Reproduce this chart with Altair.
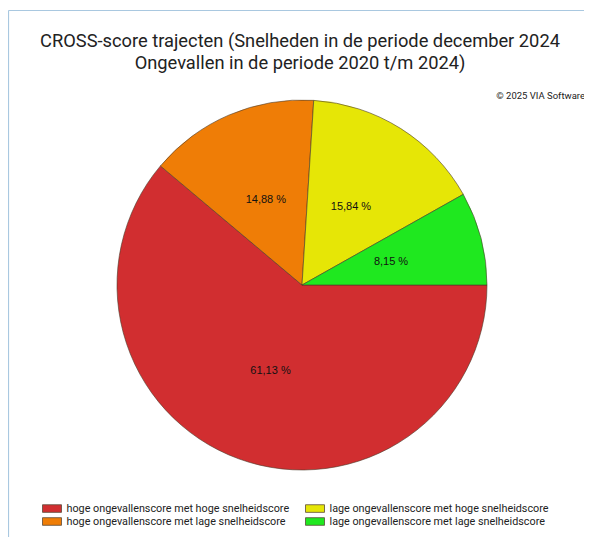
import math
import altair as alt
import pandas as pd

categories = [
    "hoge ongevallenscore met hoge snelheidscore",
    "hoge ongevallenscore met lage snelheidscore",
    "lage ongevallenscore met hoge snelheidscore",
    "lage ongevallenscore met lage snelheidscore",
]
values = [61.13, 14.88, 15.84, 8.15]
colors = ["#d12e30", "#ef7d06", "#e6e606", "#1fe81f"]
slice_order = [0, 1, 2, 3]

title_lines = [
    "CROSS-score trajecten (Snelheden in de periode december 2024",
    "Ongevallen in de periode 2020 t/m 2024)",
]
copyright_text = "\u00a9 2025 VIA Software"

df = pd.DataFrame({"cat": categories, "val": values, "ord": slice_order})

W, H = 576, 529
CX, CY, R = 294, 277, 185

color_scale = alt.Scale(domain=categories, range=colors)
theta_scale = alt.Scale(range=[math.pi / 2, math.pi / 2 + 2 * math.pi])

base = alt.Chart(df)

pie = base.mark_arc(radius=R, stroke="#4a3a2a", strokeWidth=0.6).encode(
    theta=alt.Theta("val:Q", stack=True, scale=theta_scale),
    order=alt.Order("ord:Q", sort="ascending"),
    color=alt.Color(
        "cat:N",
        scale=color_scale,
        legend=alt.Legend(
            orient="none",
            legendX=38.5,
            legendY=495,
            columns=2,
            columnPadding=14,
            rowPadding=1,
            symbolType="M-2,-0.8H2V0.8H-2Z",
            symbolSize=90.25,
            symbolStrokeColor="#5a4a3a",
            symbolStrokeWidth=0.8,
            symbolOpacity=1,
            labelFont="Roboto",
            labelFontSize=10.8,
            labelColor="#222222",
            labelOffset=9,
            labelLimit=400,
            title=None,
        ),
    ),
    x=alt.value(CX),
    y=alt.value(CY),
)

labels = base.transform_calculate(
    lbl="replace(format(datum.val, '.2f'), '.', ',') + ' %'"
).mark_text(radius=92, font="Liberation Sans", fontSize=11, color="#111111").encode(
    theta=alt.Theta("val:Q", stack=True, scale=theta_scale),
    order=alt.Order("ord:Q", sort="ascending"),
    text="lbl:N",
    x=alt.value(CX),
    y=alt.value(CY),
)

title_df = pd.DataFrame({"t": title_lines, "i": [0, 1]})
title = alt.Chart(title_df).transform_calculate(
    yy="39 + datum.i * 22"
).mark_text(font="Roboto", fontSize=18.3, color="#222222", baseline="alphabetic").encode(
    text="t:N",
    x=alt.value(292),
    y=alt.Y("yy:Q", scale=None),
)

copy = alt.Chart(pd.DataFrame({"t": [copyright_text]})).mark_text(
    font="Roboto", fontSize=9.5, color="#222222", align="right", baseline="middle"
).encode(text="t:N", x=alt.value(577), y=alt.value(88))

border_top = alt.Chart(pd.DataFrame({"a": [0]})).mark_rule(
    color="#a9c8e0", strokeWidth=1.2
).encode(x=alt.value(0.5), x2=alt.value(W), y=alt.value(2.5))
border_left = alt.Chart(pd.DataFrame({"a": [0]})).mark_rule(
    color="#a9c8e0", strokeWidth=1.2
).encode(x=alt.value(0.5), y=alt.value(2.5), y2=alt.value(H))

chart = alt.layer(border_top, border_left, pie, labels, title, copy).properties(
    width=W, height=H, autosize=alt.AutoSizeParams(type="none"), padding=0,
    background="white",
).configure_view(stroke=None)

chart.save("out.html", embed_options={"renderer": "svg", "actions": False})
